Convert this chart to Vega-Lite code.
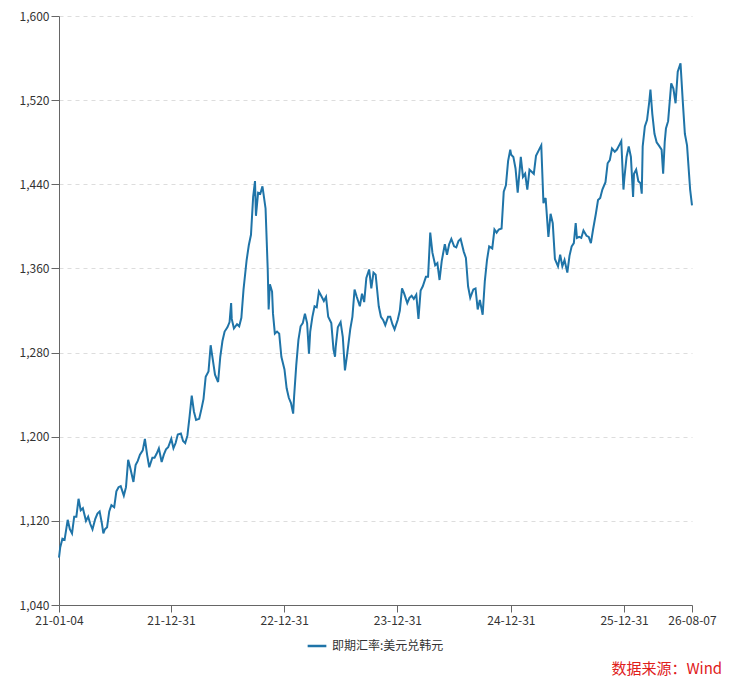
{
  "$schema": "https://vega.github.io/schema/vega-lite/v6.json",
  "width": 633,
  "height": 589,
  "autosize": "none",
  "padding": {"left": 59, "top": 16, "right": 58, "bottom": 85},
  "background": "white",
  "config": {
    "view": {"stroke": null},
    "font": "Noto Sans CJK SC"
  },
  "title": {
    "text": "数据来源：Wind",
    "orient": "bottom",
    "anchor": "end",
    "color": "#e0201b",
    "fontSize": 15,
    "fontWeight": "normal",
    "font": "Noto Sans CJK SC",
    "offset": 10,
    "dx": 6
  },
  "data": {
    "values": [
      {"d": "2021-01-04", "v": 1085}, {"d": "2021-01-08", "v": 1095}, {"d": "2021-01-15", "v": 1103}, {"d": "2021-01-22", "v": 1102},
      {"d": "2021-02-01", "v": 1121}, {"d": "2021-02-08", "v": 1112}, {"d": "2021-02-15", "v": 1108}, {"d": "2021-02-22", "v": 1124},
      {"d": "2021-03-01", "v": 1124}, {"d": "2021-03-08", "v": 1141}, {"d": "2021-03-15", "v": 1130}, {"d": "2021-03-22", "v": 1132},
      {"d": "2021-04-01", "v": 1120}, {"d": "2021-04-08", "v": 1124}, {"d": "2021-04-15", "v": 1117}, {"d": "2021-04-22", "v": 1112},
      {"d": "2021-05-01", "v": 1122}, {"d": "2021-05-08", "v": 1127}, {"d": "2021-05-15", "v": 1129}, {"d": "2021-05-22", "v": 1118},
      {"d": "2021-05-27", "v": 1108}, {"d": "2021-06-01", "v": 1112}, {"d": "2021-06-08", "v": 1114}, {"d": "2021-06-15", "v": 1129},
      {"d": "2021-06-22", "v": 1135}, {"d": "2021-07-01", "v": 1133}, {"d": "2021-07-08", "v": 1148}, {"d": "2021-07-15", "v": 1152},
      {"d": "2021-07-22", "v": 1153}, {"d": "2021-08-01", "v": 1144}, {"d": "2021-08-08", "v": 1152}, {"d": "2021-08-15", "v": 1178},
      {"d": "2021-08-22", "v": 1170}, {"d": "2021-09-01", "v": 1157}, {"d": "2021-09-08", "v": 1173}, {"d": "2021-09-15", "v": 1177},
      {"d": "2021-09-22", "v": 1183}, {"d": "2021-10-01", "v": 1187}, {"d": "2021-10-08", "v": 1198}, {"d": "2021-10-15", "v": 1183},
      {"d": "2021-10-22", "v": 1171}, {"d": "2021-11-01", "v": 1180}, {"d": "2021-11-08", "v": 1180}, {"d": "2021-11-15", "v": 1184},
      {"d": "2021-11-22", "v": 1189}, {"d": "2021-12-01", "v": 1176}, {"d": "2021-12-08", "v": 1183}, {"d": "2021-12-15", "v": 1188},
      {"d": "2021-12-22", "v": 1190}, {"d": "2022-01-01", "v": 1198}, {"d": "2022-01-08", "v": 1189}, {"d": "2022-01-15", "v": 1194},
      {"d": "2022-01-22", "v": 1202}, {"d": "2022-02-01", "v": 1203}, {"d": "2022-02-08", "v": 1196}, {"d": "2022-02-15", "v": 1194},
      {"d": "2022-02-22", "v": 1201}, {"d": "2022-03-01", "v": 1219}, {"d": "2022-03-08", "v": 1239}, {"d": "2022-03-15", "v": 1224},
      {"d": "2022-03-22", "v": 1216}, {"d": "2022-04-01", "v": 1217}, {"d": "2022-04-08", "v": 1226}, {"d": "2022-04-15", "v": 1236},
      {"d": "2022-04-22", "v": 1257}, {"d": "2022-05-01", "v": 1262}, {"d": "2022-05-08", "v": 1287}, {"d": "2022-05-15", "v": 1273},
      {"d": "2022-05-22", "v": 1259}, {"d": "2022-06-01", "v": 1252}, {"d": "2022-06-08", "v": 1276}, {"d": "2022-06-15", "v": 1291},
      {"d": "2022-06-22", "v": 1300}, {"d": "2022-07-01", "v": 1304}, {"d": "2022-07-08", "v": 1309}, {"d": "2022-07-13", "v": 1327},
      {"d": "2022-07-15", "v": 1312}, {"d": "2022-07-22", "v": 1303}, {"d": "2022-08-01", "v": 1307}, {"d": "2022-08-08", "v": 1305},
      {"d": "2022-08-15", "v": 1313}, {"d": "2022-08-22", "v": 1340}, {"d": "2022-09-01", "v": 1368}, {"d": "2022-09-08", "v": 1382},
      {"d": "2022-09-15", "v": 1392}, {"d": "2022-09-22", "v": 1428}, {"d": "2022-09-28", "v": 1443}, {"d": "2022-10-01", "v": 1410},
      {"d": "2022-10-08", "v": 1432}, {"d": "2022-10-15", "v": 1431}, {"d": "2022-10-22", "v": 1438}, {"d": "2022-11-01", "v": 1417},
      {"d": "2022-11-08", "v": 1359}, {"d": "2022-11-11", "v": 1321}, {"d": "2022-11-15", "v": 1345}, {"d": "2022-11-22", "v": 1338},
      {"d": "2022-11-25", "v": 1317}, {"d": "2022-12-01", "v": 1298}, {"d": "2022-12-08", "v": 1300}, {"d": "2022-12-15", "v": 1298},
      {"d": "2022-12-22", "v": 1276}, {"d": "2023-01-01", "v": 1264}, {"d": "2023-01-08", "v": 1246}, {"d": "2023-01-15", "v": 1237},
      {"d": "2023-01-22", "v": 1232}, {"d": "2023-01-29", "v": 1222}, {"d": "2023-02-01", "v": 1238}, {"d": "2023-02-08", "v": 1268},
      {"d": "2023-02-15", "v": 1292}, {"d": "2023-02-22", "v": 1305}, {"d": "2023-03-01", "v": 1308}, {"d": "2023-03-08", "v": 1317},
      {"d": "2023-03-15", "v": 1308}, {"d": "2023-03-21", "v": 1279}, {"d": "2023-03-25", "v": 1300}, {"d": "2023-04-01", "v": 1314},
      {"d": "2023-04-08", "v": 1324}, {"d": "2023-04-15", "v": 1323}, {"d": "2023-04-22", "v": 1338}, {"d": "2023-05-01", "v": 1333},
      {"d": "2023-05-08", "v": 1329}, {"d": "2023-05-15", "v": 1333}, {"d": "2023-05-22", "v": 1314}, {"d": "2023-06-01", "v": 1308},
      {"d": "2023-06-08", "v": 1283}, {"d": "2023-06-13", "v": 1276}, {"d": "2023-06-15", "v": 1285}, {"d": "2023-06-22", "v": 1304},
      {"d": "2023-07-01", "v": 1309}, {"d": "2023-07-08", "v": 1295}, {"d": "2023-07-15", "v": 1263}, {"d": "2023-07-22", "v": 1278},
      {"d": "2023-08-01", "v": 1302}, {"d": "2023-08-08", "v": 1314}, {"d": "2023-08-15", "v": 1340}, {"d": "2023-08-22", "v": 1333},
      {"d": "2023-09-01", "v": 1324}, {"d": "2023-09-08", "v": 1336}, {"d": "2023-09-15", "v": 1328}, {"d": "2023-09-22", "v": 1351},
      {"d": "2023-10-01", "v": 1359}, {"d": "2023-10-08", "v": 1341}, {"d": "2023-10-15", "v": 1356}, {"d": "2023-10-22", "v": 1354},
      {"d": "2023-11-01", "v": 1324}, {"d": "2023-11-08", "v": 1314}, {"d": "2023-11-15", "v": 1311}, {"d": "2023-11-22", "v": 1306},
      {"d": "2023-12-01", "v": 1314}, {"d": "2023-12-08", "v": 1314}, {"d": "2023-12-15", "v": 1307}, {"d": "2023-12-22", "v": 1302},
      {"d": "2024-01-01", "v": 1311}, {"d": "2024-01-08", "v": 1320}, {"d": "2024-01-15", "v": 1341}, {"d": "2024-01-22", "v": 1336},
      {"d": "2024-02-01", "v": 1327}, {"d": "2024-02-08", "v": 1332}, {"d": "2024-02-15", "v": 1334}, {"d": "2024-02-22", "v": 1331},
      {"d": "2024-03-01", "v": 1335}, {"d": "2024-03-08", "v": 1312}, {"d": "2024-03-15", "v": 1339}, {"d": "2024-03-22", "v": 1343},
      {"d": "2024-04-01", "v": 1352}, {"d": "2024-04-08", "v": 1352}, {"d": "2024-04-15", "v": 1394}, {"d": "2024-04-22", "v": 1375},
      {"d": "2024-05-01", "v": 1363}, {"d": "2024-05-08", "v": 1365}, {"d": "2024-05-15", "v": 1349}, {"d": "2024-05-22", "v": 1367},
      {"d": "2024-06-01", "v": 1383}, {"d": "2024-06-08", "v": 1373}, {"d": "2024-06-15", "v": 1383}, {"d": "2024-06-22", "v": 1388},
      {"d": "2024-07-01", "v": 1381}, {"d": "2024-07-08", "v": 1380}, {"d": "2024-07-15", "v": 1386}, {"d": "2024-07-22", "v": 1388},
      {"d": "2024-08-01", "v": 1376}, {"d": "2024-08-08", "v": 1370}, {"d": "2024-08-15", "v": 1343}, {"d": "2024-08-22", "v": 1332},
      {"d": "2024-09-01", "v": 1340}, {"d": "2024-09-08", "v": 1341}, {"d": "2024-09-15", "v": 1321}, {"d": "2024-09-22", "v": 1330},
      {"d": "2024-10-01", "v": 1316}, {"d": "2024-10-08", "v": 1348}, {"d": "2024-10-15", "v": 1368}, {"d": "2024-10-22", "v": 1381},
      {"d": "2024-11-01", "v": 1379}, {"d": "2024-11-08", "v": 1397}, {"d": "2024-11-15", "v": 1394}, {"d": "2024-11-22", "v": 1397},
      {"d": "2024-12-01", "v": 1398}, {"d": "2024-12-08", "v": 1433}, {"d": "2024-12-15", "v": 1439}, {"d": "2024-12-22", "v": 1462},
      {"d": "2024-12-29", "v": 1473}, {"d": "2025-01-01", "v": 1468}, {"d": "2025-01-08", "v": 1466}, {"d": "2025-01-15", "v": 1455},
      {"d": "2025-01-22", "v": 1432}, {"d": "2025-02-01", "v": 1466}, {"d": "2025-02-08", "v": 1447}, {"d": "2025-02-15", "v": 1450},
      {"d": "2025-02-22", "v": 1435}, {"d": "2025-03-01", "v": 1454}, {"d": "2025-03-08", "v": 1452}, {"d": "2025-03-15", "v": 1450},
      {"d": "2025-03-22", "v": 1467}, {"d": "2025-04-01", "v": 1473}, {"d": "2025-04-08", "v": 1477}, {"d": "2025-04-15", "v": 1422},
      {"d": "2025-04-22", "v": 1427}, {"d": "2025-05-01", "v": 1390}, {"d": "2025-05-08", "v": 1412}, {"d": "2025-05-15", "v": 1403},
      {"d": "2025-05-22", "v": 1369}, {"d": "2025-06-01", "v": 1362}, {"d": "2025-06-08", "v": 1373}, {"d": "2025-06-15", "v": 1362},
      {"d": "2025-06-22", "v": 1368}, {"d": "2025-07-01", "v": 1356}, {"d": "2025-07-08", "v": 1372}, {"d": "2025-07-15", "v": 1381},
      {"d": "2025-07-22", "v": 1384}, {"d": "2025-07-28", "v": 1403}, {"d": "2025-08-01", "v": 1389}, {"d": "2025-08-08", "v": 1390},
      {"d": "2025-08-15", "v": 1389}, {"d": "2025-08-22", "v": 1396}, {"d": "2025-09-01", "v": 1391}, {"d": "2025-09-08", "v": 1390},
      {"d": "2025-09-15", "v": 1384}, {"d": "2025-09-22", "v": 1397}, {"d": "2025-10-01", "v": 1412}, {"d": "2025-10-08", "v": 1425},
      {"d": "2025-10-15", "v": 1427}, {"d": "2025-10-22", "v": 1435}, {"d": "2025-11-01", "v": 1442}, {"d": "2025-11-08", "v": 1460},
      {"d": "2025-11-15", "v": 1463}, {"d": "2025-11-22", "v": 1474}, {"d": "2025-12-01", "v": 1471}, {"d": "2025-12-08", "v": 1473},
      {"d": "2025-12-15", "v": 1477}, {"d": "2025-12-22", "v": 1481}, {"d": "2025-12-29", "v": 1435}, {"d": "2026-01-01", "v": 1446},
      {"d": "2026-01-08", "v": 1466}, {"d": "2026-01-15", "v": 1476}, {"d": "2026-01-22", "v": 1466}, {"d": "2026-01-29", "v": 1428},
      {"d": "2026-02-01", "v": 1450}, {"d": "2026-02-08", "v": 1454}, {"d": "2026-02-15", "v": 1443}, {"d": "2026-02-22", "v": 1441},
      {"d": "2026-02-26", "v": 1431}, {"d": "2026-03-01", "v": 1476}, {"d": "2026-03-08", "v": 1495}, {"d": "2026-03-15", "v": 1501},
      {"d": "2026-03-22", "v": 1518}, {"d": "2026-03-26", "v": 1530}, {"d": "2026-04-01", "v": 1507}, {"d": "2026-04-08", "v": 1488},
      {"d": "2026-04-15", "v": 1480}, {"d": "2026-04-22", "v": 1477}, {"d": "2026-05-01", "v": 1473}, {"d": "2026-05-06", "v": 1450},
      {"d": "2026-05-11", "v": 1480}, {"d": "2026-05-15", "v": 1493}, {"d": "2026-05-22", "v": 1500}, {"d": "2026-06-01", "v": 1536},
      {"d": "2026-06-08", "v": 1531}, {"d": "2026-06-15", "v": 1517}, {"d": "2026-06-22", "v": 1547}, {"d": "2026-07-01", "v": 1555},
      {"d": "2026-07-08", "v": 1520}, {"d": "2026-07-15", "v": 1488}, {"d": "2026-07-22", "v": 1477}, {"d": "2026-08-01", "v": 1435},
      {"d": "2026-08-07", "v": 1420}
    ]
  },
  "mark": {"type": "line", "strokeWidth": 2, "interpolate": "linear"},
  "encoding": {
    "x": {
      "field": "d",
      "type": "temporal",
      "scale": {
        "type": "utc",
        "nice": false,
        "domain": [
          {"year": 2021, "month": 1, "date": 4, "utc": true},
          {"year": 2026, "month": 8, "date": 7, "utc": true}
        ]
      },
      "axis": {
        "title": null,
        "values": [
          {"year": 2021, "month": 1, "date": 4, "utc": true},
          {"year": 2021, "month": 12, "date": 31, "utc": true},
          {"year": 2022, "month": 12, "date": 31, "utc": true},
          {"year": 2023, "month": 12, "date": 31, "utc": true},
          {"year": 2024, "month": 12, "date": 31, "utc": true},
          {"year": 2025, "month": 12, "date": 31, "utc": true},
          {"year": 2026, "month": 8, "date": 7, "utc": true}
        ],
        "format": "%y-%m-%d",
        "grid": false,
        "domainColor": "#666666",
        "tickColor": "#666666",
        "tickSize": 7,
        "labelFontSize": 12,
        "labelColor": "#333333",
        "labelPadding": 3,
        "labelFlush": false,
        "labelOverlap": false
      }
    },
    "y": {
      "field": "v",
      "type": "quantitative",
      "scale": {"domain": [1040, 1600], "nice": false, "zero": false},
      "axis": {
        "title": null,
        "values": [1040, 1120, 1200, 1280, 1360, 1440, 1520, 1600],
        "format": ",d",
        "grid": true,
        "gridColor": "#dddddd",
        "gridDash": [4, 4],
        "domainColor": "#666666",
        "tickColor": "#666666",
        "tickSize": 8,
        "labelFontSize": 12,
        "labelColor": "#333333",
        "labelPadding": 2
      }
    },
    "color": {
      "datum": "即期汇率:美元兑韩元",
      "type": "nominal",
      "scale": {"range": ["#1f74a8"]},
      "legend": {
        "title": null,
        "orient": "none",
        "legendX": 247,
        "legendY": 619,
        "symbolType": "stroke",
        "symbolStrokeWidth": 2.5,
        "symbolSize": 350,
        "labelFontSize": 12,
        "labelColor": "#333333"
      }
    }
  }
}
